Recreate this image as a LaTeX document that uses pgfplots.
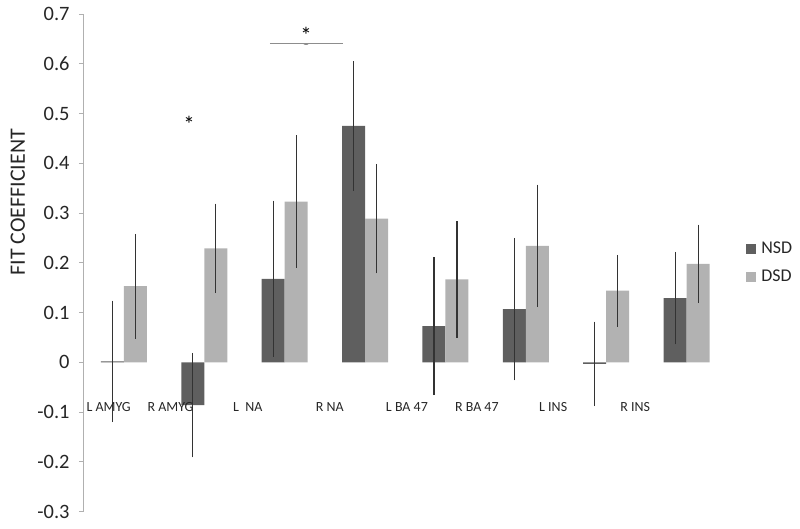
\documentclass[border=0pt]{standalone}
\usepackage{fontspec}
\setmainfont{Carlito}
\usepackage{pgfplots}
\pgfplotsset{compat=1.18}

\definecolor{nsd}{HTML}{5F5F5F}
\definecolor{dsd}{HTML}{B2B2B2}
\definecolor{axisgray}{HTML}{B0B0B0}
\definecolor{txt}{HTML}{262626}

\begin{document}
\begin{tikzpicture}
\begin{axis}[
    scale only axis,
    width=643bp, height=497.7bp,
    ybar=0pt,
    bar width=23bp,
    xmin=-0.5, xmax=7.5,
    ymin=-0.3, ymax=0.7,
    axis x line=none,
    axis y line=left,
    axis line style={-, axisgray, line width=1.2bp},
    ytick={-0.3,-0.2,...,0.7},
    yticklabels={-0.3,-0.2,-0.1,0,0.1,0.2,0.3,0.4,0.5,0.6,0.7},
    tick align=outside,
    major tick length=5bp,
    tick style={axisgray, line width=1bp},
    yticklabel style={font=\fontsize{20.5}{22}\selectfont, text=txt, inner sep=0pt, xshift=-9bp},
    legend image code/.code={\fill[#1] (0bp,-5bp) rectangle (10bp,5bp);},
    legend style={at={(1.03,0.5)}, anchor=west, draw=none, fill=none,
        font=\fontsize{18}{20}\selectfont, text=txt,
        row sep=11bp, inner sep=0pt, nodes={inner ysep=2bp, inner xsep=5bp}},
    legend cell align=left,
    error bars/y dir=both,
    error bars/y explicit,
    error bars/error mark=none,
    error bars/error bar style={line width=1.1bp, color=black!80},
    clip=false,
]
\addplot[fill=nsd, draw=none] coordinates {
    (0,0.002) +- (0,0.122)
    (1,-0.086) +- (0,0.105)
    (2,0.168) +- (0,0.157)
    (3,0.475) +- (0,0.130)
    (4,0.073) +- (0,0.139)
    (5,0.107) +- (0,0.143)
    (6,-0.003) +- (0,0.085)
    (7,0.129) +- (0,0.093)
};
\addplot[fill=dsd, draw=none] coordinates {
    (0,0.153) +- (0,0.105)
    (1,0.229) +- (0,0.090)
    (2,0.323) +- (0,0.133)
    (3,0.289) +- (0,0.110)
    (4,0.167) +- (0,0.117)
    (5,0.234) +- (0,0.123)
    (6,0.144) +- (0,0.072)
    (7,0.198) +- (0,0.079)
};
\legend{NSD, DSD}

% region labels, placed inside the plot as in the original
\begin{scope}[every node/.style={font=\fontsize{14}{16}\selectfont, text=txt}]
\node at (axis cs:-0.19,-0.09) {L AMYG};
\node at (axis cs:0.58,-0.09) {R AMYG};
\node at (axis cs:1.54,-0.09) {L\ \ NA};
\node at (axis cs:2.56,-0.09) {R NA};
\node at (axis cs:3.52,-0.09) {L BA 47};
\node at (axis cs:4.39,-0.09) {R BA 47};
\node at (axis cs:5.34,-0.09) {L INS};
\node at (axis cs:6.36,-0.09) {R INS};
\end{scope}

% significance marks
\node[font=\fontsize{23}{24}\selectfont] at (axis cs:0.81,0.478) {*};
\node[font=\fontsize{23}{24}\selectfont] at (axis cs:2.264,0.657) {*};
\draw[axisgray!80!black, line width=1bp] (axis cs:1.816,0.641) -- (axis cs:2.72,0.641);
\draw[axisgray!80!black, line width=0.8bp] (axis cs:2.23,0.641) -- (axis cs:2.25,0.639) -- (axis cs:2.28,0.639) -- (axis cs:2.30,0.641);

\node[rotate=90, font=\fontsize{22}{24}\selectfont, text=txt] at ([xshift=-66bp]axis cs:-0.5,0.322) {FIT COEFFICIENT};

\coordinate (sw) at (axis cs:-0.5,-0.3);
\end{axis}
\pgfresetboundingbox
\useasboundingbox ([shift={(-83.8bp,-17.3bp)}]sw) rectangle ++(800bp,529bp);
\end{tikzpicture}
\end{document}
